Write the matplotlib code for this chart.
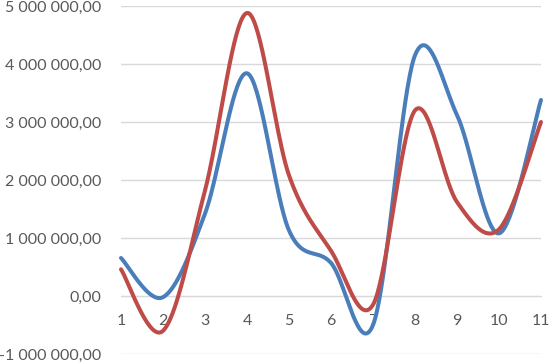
import matplotlib.pyplot as plt
import numpy as np
from matplotlib.ticker import FuncFormatter

x = [1, 2, 3, 4, 5, 6, 7, 8, 9, 10, 11]
series_blue = [655000, -20000, 1420000, 3840000, 1130000, 570000, -500000,
               4150000, 3120000, 1080000, 3380000]
series_red = [460000, -600000, 1820000, 4880000, 2080000, 780000, -150000,
              3200000, 1620000, 1150000, 3000000]


def smooth(xs, ys, n=40):
    # Excel-like smoothed line (Catmull-Rom via cubic Bezier segments)
    xs = np.asarray(xs, float)
    ys = np.asarray(ys, float)
    px = np.concatenate([[xs[0]], xs, [xs[-1]]])
    py = np.concatenate([[ys[0]], ys, [ys[-1]]])
    ox, oy = [], []
    t = np.linspace(0, 1, n)
    for i in range(1, len(px) - 2):
        p0 = np.array([px[i], py[i]])
        p3 = np.array([px[i + 1], py[i + 1]])
        c1 = p0 + (p3 - np.array([px[i - 1], py[i - 1]])) / 6
        c2 = p3 - (np.array([px[i + 2], py[i + 2]]) - p0) / 6
        pts = (np.outer((1 - t) ** 3, p0) + np.outer(3 * (1 - t) ** 2 * t, c1)
               + np.outer(3 * (1 - t) * t ** 2, c2) + np.outer(t ** 3, p3))
        ox += list(pts[:, 0])
        oy += list(pts[:, 1])
    return ox, oy


def fmt(v, pos):
    s = f"{v:,.2f}"
    return s.replace(",", " ").replace(".", ",")


plt.rcParams['font.family'] = ['Lato', 'DejaVu Sans']

fig = plt.figure(figsize=(5.5, 3.62), dpi=100)
ax = fig.add_axes([121 / 550, 1 - 354 / 362, 420 / 550, 348 / 362])

for ys, c in [(series_blue, '#4a7ebb'), (series_red, '#be4b48')]:
    sx, sy = smooth(x, ys)
    ax.plot(sx, sy, color=c, linewidth=2.9, solid_capstyle='round',
            clip_on=False)

ax.set_xlim(1, 11)
ax.set_ylim(-1000000, 5000000)
ax.set_yticks(np.arange(-1000000, 5000001, 1000000))
ax.set_xticks(x)
ax.yaxis.set_major_formatter(FuncFormatter(fmt))
ax.grid(axis='y', color='#d9d9d9', linewidth=1)
ax.set_axisbelow(True)

for s in ['top', 'right', 'left']:
    ax.spines[s].set_visible(False)
ax.spines['bottom'].set_position(('data', 0))
ax.spines['bottom'].set_color('#d9d9d9')
ax.spines['bottom'].set_zorder(0)

ax.tick_params(axis='both', length=0, colors='#595959', labelsize=11.5)
ax.tick_params(axis='x', pad=13)
ax.tick_params(axis='y', pad=14)

fig.savefig('out.png', dpi=100)
